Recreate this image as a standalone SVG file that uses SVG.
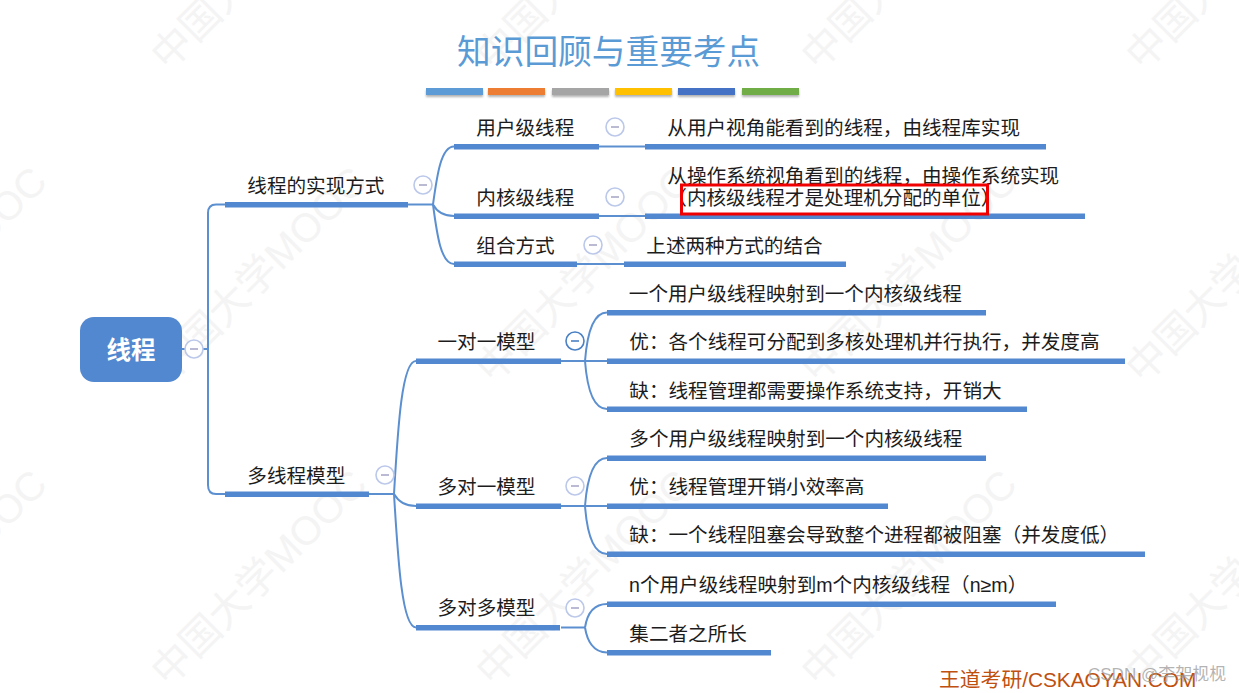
<svg xmlns="http://www.w3.org/2000/svg" width="1239" height="693" viewBox="0 0 1239 693">
<defs>
<filter id="sh" x="-10%" y="-50%" width="120%" height="250%"><feDropShadow dx="0" dy="2" stdDeviation="1.2" flood-color="#000" flood-opacity="0.3"/></filter>
<g id="wm"><text class="wm" transform="rotate(-45)">中国大学MOOC</text></g>
<g id="wmrow"><use href="#wm" x="-152" y="0"/><use href="#wm" x="168" y="0"/><use href="#wm" x="493" y="0"/><use href="#wm" x="818" y="0"/><use href="#wm" x="1143" y="0"/></g>
</defs>
<style>
text{font-family:"Noto Sans CJK SC","Noto Sans",sans-serif}
.wm{font-size:40px;fill:#f4f4f4;font-family:"Liberation Sans","Noto Sans CJK SC",sans-serif}
.t{font-size:19.6px;fill:#1c1c1c}
.bar{fill:#5288cf}
.c{fill:none;stroke:#5b8fd0;stroke-width:2}
.tog{fill:#fff;stroke:#bcc8ea;stroke-width:1.6}
.min{stroke:#a9a9c9;stroke-width:1.6}
</style>
<rect width="1239" height="693" fill="#fff"/>
<g id="watermarks">
<use href="#wmrow" y="72"/><use href="#wmrow" y="385"/><use href="#wmrow" y="688"/>
</g>
<g id="title">
<text x="457" y="64" style="font-size:33.700px;fill:#5b9bd5">知识回顾与重要考点</text>
<g filter="url(#sh)">
<rect x="426" y="88" width="57" height="7" fill="#5b9bd5"/>
<rect x="488" y="88" width="57" height="7" fill="#ed7d31"/>
<rect x="552" y="88" width="57" height="7" fill="#a5a5a5"/>
<rect x="615" y="88" width="57" height="7" fill="#ffc000"/>
<rect x="678" y="88" width="57" height="7" fill="#4472c4"/>
<rect x="742" y="88" width="57" height="7" fill="#70ad47"/>
</g>
</g>
<g id="connectors">
<path class="c" d="M182 349H208"/>
<path class="c" d="M225 204.500H216Q208 204.500 208 213V485Q208 494 216 494H225"/>
<path class="c" d="M408 204.500H433"/>
<path class="c" d="M433 204.500C437 175 441 146.500 454 146.500"/>
<path class="c" d="M433 204.500C437 212 444 216 454 216"/>
<path class="c" d="M433 204.500C437 235 441 264 454 264"/>
<path class="c" d="M599 146.500H645"/>
<path class="c" d="M599 216H645"/>
<path class="c" d="M577 264H624"/>
<path class="c" d="M369 494H394"/>
<path class="c" d="M394 494C398 425 402 361 416 361"/>
<path class="c" d="M394 494C398 501 405 506 416 506"/>
<path class="c" d="M394 494C398 560 402 627.500 416 627.500"/>
<path class="c" d="M561 361H607"/>
<path class="c" d="M585 361C587 335 593 312.500 607 312.500"/>
<path class="c" d="M585 361C587 387 593 409 607 409"/>
<path class="c" d="M561 506H607"/>
<path class="c" d="M585 506C587 480 593 458 607 458"/>
<path class="c" d="M585 506C587 532 593 554 607 554"/>
<path class="c" d="M561 627.500H585"/>
<path class="c" d="M585 627.500C587 615 593 604 607 604"/>
<path class="c" d="M585 627.500C587 640 593 652.500 607 652.500"/>
</g>
<g id="n-root"><rect x="80" y="317" width="102" height="65" rx="14" fill="#5288cf"/><text x="106.500" y="359" style="font-size:24.5px;font-weight:700;fill:#fff">线程</text><circle class="tog" cx="194" cy="349" r="9"/><path class="min" d="M190 349h8"/></g>
<g id="n-impl"><rect class="bar" x="225" y="202" width="183" height="5.500"/><text class="t" x="247.300" y="192.500">线程的实现方式</text><circle class="tog" cx="423" cy="185" r="9"/><path class="min" d="M419 185h8"/></g>
<g id="n-user"><rect class="bar" x="454" y="144" width="145" height="5.500"/><text class="t" x="476.300" y="134.500">用户级线程</text><circle class="tog" cx="615" cy="127" r="9"/><path class="min" d="M611 127h8"/></g>
<g id="n-user-d"><rect class="bar" x="645" y="144" width="401" height="5.500"/><text class="t" x="667.300" y="134.500">从用户视角能看到的线程，由线程库实现</text></g>
<g id="n-kernel"><rect class="bar" x="454" y="213.500" width="145" height="5.500"/><text class="t" x="476.300" y="204.500">内核级线程</text><circle class="tog" cx="615" cy="197" r="9"/><path class="min" d="M611 197h8"/></g>
<g id="n-kernel-d"><rect class="bar" x="645" y="213.500" width="440" height="5.500"/><text class="t" x="667.300" y="183">从操作系统视角看到的线程，由操作系统实现</text><text class="t" x="667.300" y="204.500">（内核级线程才是处理机分配的单位）</text><rect x="681.500" y="185" width="306" height="29" fill="none" stroke="#f00000" stroke-width="3"/></g>
<g id="n-combo"><rect class="bar" x="454" y="261.500" width="123" height="5.500"/><text class="t" x="476.300" y="252.500">组合方式</text><circle class="tog" cx="593" cy="245" r="9"/><path class="min" d="M589 245h8"/></g>
<g id="n-combo-d"><rect class="bar" x="624" y="261.500" width="222" height="5.500"/><text class="t" x="646.300" y="252.500">上述两种方式的结合</text></g>
<g id="n-multi"><rect class="bar" x="225" y="491.500" width="144" height="5.500"/><text class="t" x="247.300" y="482.500">多线程模型</text><circle class="tog" cx="385" cy="475" r="9"/><path class="min" d="M381 475h8"/></g>
<g id="n-11"><rect class="bar" x="416" y="358.500" width="145" height="5.500"/><text class="t" x="437.500" y="348.500">一对一模型</text><circle class="tog" style="stroke:#4a80c4" cx="575" cy="341" r="9"/><path class="min" style="stroke:#4a80c4" d="M571 341h8"/></g>
<g id="n-11-a"><rect class="bar" x="607" y="310" width="379" height="5.500"/><text class="t" x="628.800" y="300.500">一个用户级线程映射到一个内核级线程</text></g>
<g id="n-11-b"><rect class="bar" x="607" y="358.500" width="518" height="5.500"/><text class="t" x="629.300" y="348.500">优：各个线程可分配到多核处理机并行执行，并发度高</text></g>
<g id="n-11-c"><rect class="bar" x="607" y="406.500" width="420" height="5.500"/><text class="t" x="629.300" y="397.500">缺：线程管理都需要操作系统支持，开销大</text></g>
<g id="n-m1"><rect class="bar" x="416" y="503.500" width="145" height="5.500"/><text class="t" x="437.500" y="493.500">多对一模型</text><circle class="tog" cx="575" cy="486" r="9"/><path class="min" d="M571 486h8"/></g>
<g id="n-m1-a"><rect class="bar" x="607" y="455.500" width="379" height="5.500"/><text class="t" x="629.300" y="445.500">多个用户级线程映射到一个内核级线程</text></g>
<g id="n-m1-b"><rect class="bar" x="607" y="503.500" width="281" height="5.500"/><text class="t" x="629.300" y="493.500">优：线程管理开销小效率高</text></g>
<g id="n-m1-c"><rect class="bar" x="607" y="551.500" width="538" height="5.500"/><text class="t" x="629.300" y="541.500">缺：一个线程阻塞会导致整个进程都被阻塞（并发度低）</text></g>
<g id="n-mm"><rect class="bar" x="416" y="625" width="144" height="5.500"/><text class="t" x="437.500" y="614.500">多对多模型</text><circle class="tog" cx="575" cy="608" r="9"/><path class="min" d="M571 608h8"/></g>
<g id="n-mm-a"><rect class="bar" x="607" y="601.500" width="449" height="5.500"/><text class="t" x="629" y="592" style="font-family:'Liberation Sans','Noto Sans CJK SC',sans-serif">n个用户级线程映射到m个内核级线程（n≥m）</text></g>
<g id="n-mm-b"><rect class="bar" x="607" y="650" width="164" height="5.500"/><text class="t" x="629.300" y="640.500">集二者之所长</text></g>
<g id="footer">
<text x="939" y="686.500" style="font-size:20.800px;fill:#c0500f;font-family:'Liberation Sans','Noto Sans CJK SC',sans-serif">王道考研/CSKAOYAN.COM</text>
<text x="1088" y="679.500" style="font-size:17px;fill:#9a9a9a;fill-opacity:.75;font-family:'Liberation Sans','Noto Sans CJK SC',sans-serif">CSDN @李架枧枧</text>
</g>
</svg>
